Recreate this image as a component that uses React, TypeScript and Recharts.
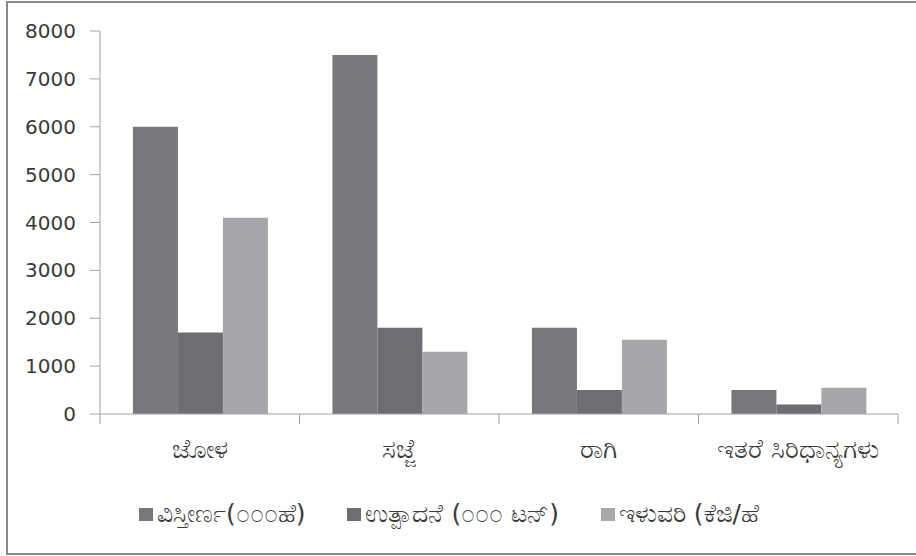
import { BarChart, Bar, XAxis, YAxis, Legend } from "recharts";

const categories = ["ಜೋಳ", "ಸಜ್ಜೆ", "ರಾಗಿ", "ಇತರೆ ಸಿರಿಧಾನ್ಯಗಳು"];
const areaValues = [6000, 7500, 1800, 500];
const productionValues = [1700, 1800, 500, 200];
const yieldValues = [4100, 1300, 1550, 550];
const yTicks = [0, 1000, 2000, 3000, 4000, 5000, 6000, 7000, 8000];

const SERIES = [
  { key: "area", name: "ವಿಸ್ತೀರ್ಣ(೦೦೦ಹೆ)", color: "#77787c" },
  { key: "production", name: "ಉತ್ಪಾದನೆ (೦೦೦ ಟನ್)", color: "#6d6e72" },
  { key: "yield", name: "ಇಳುವರಿ (ಕೆಜಿ/ಹೆ", color: "#a6a7ab" },
];

const data = categories.map((name, i) => ({
  name,
  area: areaValues[i],
  production: productionValues[i],
  yield: yieldValues[i],
}));

// category boundaries get a tick mark, band centres get the label
const edgeTicks = categories.flatMap((_, i) => [i, i + 0.5]).concat(categories.length);

const FONT = "'DejaVu Sans', 'Noto Sans', sans-serif";
const AXIS = "#a3a3a3";
const TEXT = "#3a3a3a";

const EDGE_DOMAIN = [0, categories.length];
const Y_DOMAIN = [0, 8000];
const zeroKey = () => 0;
const Y_TICK = { fontSize: 20, fill: TEXT, fontFamily: FONT };
const MARGIN = { top: 31, right: 18, left: 0, bottom: 27 };

function EdgeTick(props: any) {
  const { x, y, payload } = props;
  const v = payload.value as number;
  if (Number.isInteger(v)) {
    return <line x1={x} x2={x} y1={y - 10} y2={y} stroke={AXIS} />;
  }
  return (
    <text x={x} y={y + 16} dy="0.71em" textAnchor="middle" fontSize={26} fill={TEXT} fontFamily={FONT}>
      {categories[Math.floor(v)]}
    </text>
  );
}

function LegendRow() {
  return (
    <div style={{ display: "flex", justifyContent: "center", gap: 42, fontFamily: FONT, fontSize: 25, color: TEXT, lineHeight: "30px" }}>
      {SERIES.map((s) => (
        <div key={s.key} style={{ display: "flex", alignItems: "center", gap: 4 }}>
          <span style={{ width: 14, height: 13, background: s.color, display: "inline-block" }} />
          <span>{s.name}</span>
        </div>
      ))}
    </div>
  );
}
const legendContent = () => <LegendRow />;

export default function App() {
  return (
    <div style={{ position: "absolute", left: 0, top: 0, width: 916, height: 556, overflow: "hidden", background: "#fff" }}>
      <div style={{ position: "absolute", left: 6, top: 1, width: 930, height: 550, border: "2px solid #8a8a8a" }} />
      <BarChart
        width={916}
        height={556}
        data={data}
        margin={MARGIN}
        barCategoryGap="16.5%"
        barGap={0}
        style={{ position: "absolute", left: 0, top: 0 }}
      >
        <XAxis xAxisId="cat" dataKey="name" height={0} hide />
        <XAxis
          xAxisId="edges"
          type="number"
          dataKey={zeroKey}
          domain={EDGE_DOMAIN}
          ticks={edgeTicks}
          allowDataOverflow
          interval={0}
          height={85}
          stroke={AXIS}
          tickLine={false}
          tickSize={10}
          tickMargin={0}
          tick={EdgeTick}
        />
        <YAxis
          domain={Y_DOMAIN}
          ticks={yTicks}
          width={100}
          stroke={AXIS}
          tickSize={10}
          tickMargin={14}
          tick={Y_TICK}
        />
        <Legend verticalAlign="bottom" content={legendContent} />
        {SERIES.map((s) => (
          <Bar key={s.key} xAxisId="cat" dataKey={s.key} name={s.name} fill={s.color} isAnimationActive={false} />
        ))}
      </BarChart>
    </div>
  );
}
